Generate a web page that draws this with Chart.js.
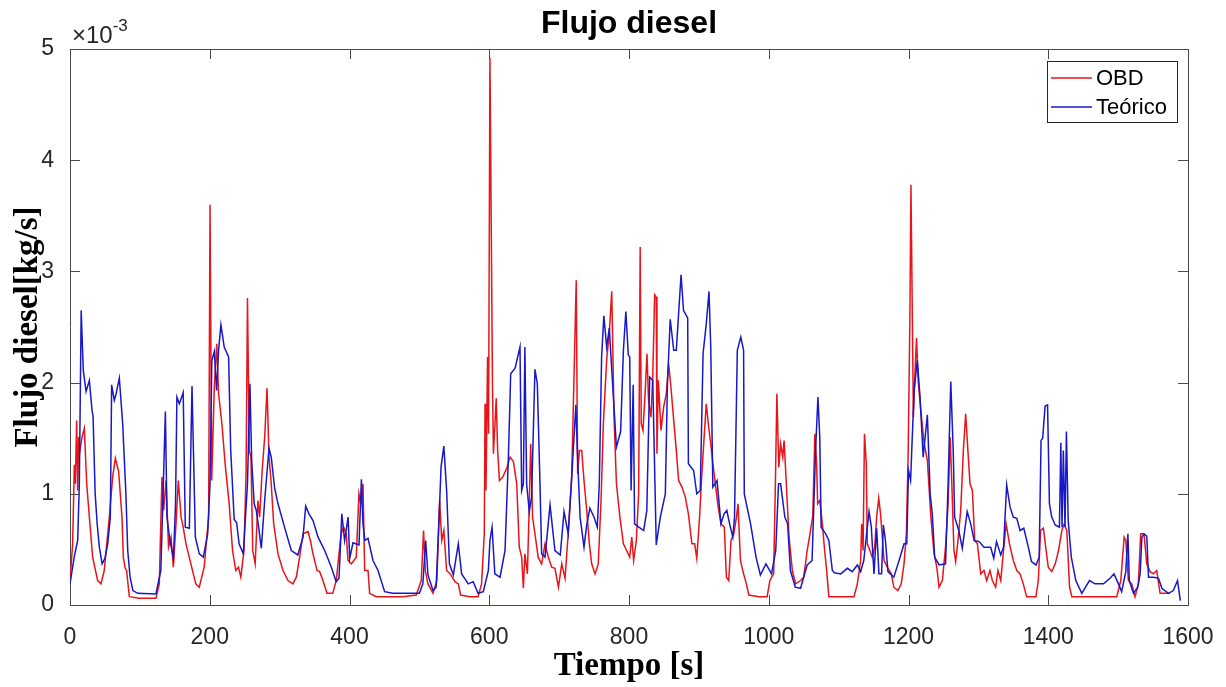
<!DOCTYPE html>
<html>
<head>
<meta charset="utf-8">
<title>Flujo diesel</title>
<script src="https://cdn.jsdelivr.net/npm/chart.js@4.4.1/dist/chart.umd.min.js"></script>
<style>
  body { margin: 0; background: #fff; }
</style>
</head>
<body>
<canvas id="myChart" width="1226" height="687"></canvas>
<script>
// valores en unidades de 1e-3 kg/s (el eje muestra x10^-3)
var obdTiempo = [0, 3.8, 6.2, 7.6, 9.5, 11, 12.4, 14.3, 17.2, 20.5, 23.9, 27.7, 32.4, 39.6, 44.4, 49, 56.3, 61, 64.9, 69.6, 74.4, 76.3, 79, 81, 84.9, 99, 123, 127.8, 131.6, 134, 137.4, 141, 144.6, 147.9, 151.7, 155, 159, 162, 166, 173, 180, 185, 192, 198.4, 200.4, 202.8, 206.5, 210, 212.6, 217.4, 222, 227.8, 232.6, 237.3, 241, 244.5, 249, 252, 254, 256.6, 259, 261.5, 265, 269, 271.4, 275, 278.6, 282, 284.8, 288, 291.5, 297.7, 304.8, 312, 319, 323.9, 328.6, 333.5, 340.6, 344, 347.8, 353.5, 357.3, 362, 367.8, 376, 381, 385, 388, 391.6, 395.4, 397.8, 402.6, 409.7, 413.5, 416, 419.3, 421.7, 426.5, 428.8, 438.4, 476.5, 495.5, 502.7, 506, 508.5, 512.3, 519.5, 525, 529, 532, 535, 539, 544, 551, 555.7, 559, 572, 584, 589, 592.9, 594, 595.3, 597.6, 599, 601, 604.6, 606, 610, 612, 614.6, 619.4, 625, 629.8, 634.6, 639.3, 643, 646.4, 648.8, 651, 654.6, 657.3, 659.3, 662, 665.4, 670, 675, 679.8, 684.6, 689.3, 694, 699, 703.8, 708.5, 713.3, 718, 720.4, 724.5, 726.5, 729, 732.3, 735.6, 739.5, 743.3, 746.6, 751.4, 756, 760, 763.3, 768, 772, 775.3, 778.6, 782, 787, 792, 796.6, 801, 804, 806.6, 810.5, 813.8, 816, 817.5, 820, 823.3, 825.7, 828, 831.4, 834, 836.7, 839, 840, 842, 845.8, 849.6, 853.4, 856.7, 860, 864, 867.7, 871, 875.8, 880.6, 885, 890, 894, 897, 901, 904, 907.5, 910.6, 914, 917, 920, 923.6, 927, 931.6, 936.4, 939.4, 942.7, 946, 950, 953.8, 956, 959.5, 964, 968, 971.5, 985.8, 997.7, 1001.6, 1007, 1009.5, 1011.6, 1014.4, 1017, 1020, 1022, 1025.6, 1029, 1033.8, 1038.5, 1045.6, 1050, 1055, 1059, 1063, 1066, 1068.5, 1070, 1073, 1076.7, 1080, 1083, 1086, 1122, 1126.8, 1131.5, 1133, 1135, 1137, 1139.6, 1141, 1144.8, 1148, 1151.6, 1154.4, 1157.4, 1160, 1165, 1169.6, 1175.4, 1179, 1184.9, 1189.6, 1193.6, 1197, 1199.6, 1202, 1203.5, 1207, 1209.6, 1211.5, 1213.8, 1217.6, 1222.4, 1227, 1232, 1236.6, 1240.5, 1243.7, 1248.5, 1253, 1256.7, 1259.6, 1262, 1265, 1267.5, 1270.8, 1274.7, 1278.5, 1281.8, 1285, 1288, 1291.4, 1294.8, 1298.6, 1303.4, 1308, 1311.9, 1316.6, 1320, 1324.7, 1328, 1332, 1336, 1339.7, 1344.5, 1350, 1355, 1359.6, 1364.3, 1369, 1382.4, 1385.8, 1389, 1393, 1397, 1400, 1405, 1410, 1414.7, 1419.5, 1422.8, 1426.6, 1430.5, 1433.8, 1498, 1503.8, 1508.6, 1511, 1514.7, 1519.5, 1524.2, 1529, 1532.3, 1537, 1541, 1545.7, 1550.5, 1555.3, 1560, 1574];
var obdFlujo = [0.22, 0.55, 1.26, 1.09, 1.66, 1.03, 1.51, 1.39, 1.51, 1.59, 1.09, 0.79, 0.43, 0.22, 0.19, 0.31, 0.79, 1.15, 1.32, 1.20, 0.79, 0.43, 0.33, 0.31, 0.075, 0.06, 0.06, 0.19, 1.15, 0.85, 1.12, 0.52, 0.61, 0.34, 0.73, 1.12, 0.79, 0.70, 0.55, 0.37, 0.19, 0.16, 0.34, 0.79, 3.60, 1.12, 1.96, 2.35, 1.90, 1.63, 1.27, 0.91, 0.49, 0.31, 0.34, 0.25, 0.49, 1.2, 2.76, 1.39, 1.33, 0.49, 0.37, 0.94, 0.79, 1.21, 1.51, 1.95, 1.33, 1.09, 0.73, 0.46, 0.31, 0.22, 0.19, 0.25, 0.43, 0.64, 0.66, 0.58, 0.46, 0.31, 0.30, 0.22, 0.105, 0.105, 0.22, 0.46, 0.64, 0.70, 0.64, 0.40, 0.37, 0.43, 1.00, 0.91, 1.09, 0.31, 0.31, 0.105, 0.075, 0.075, 0.09, 0.22, 0.67, 0.31, 0.19, 0.105, 0.22, 0.94, 0.58, 0.67, 0.31, 0.28, 0.21, 0.19, 0.09, 0.075, 0.075, 0.19, 0.64, 1.81, 1.03, 2.23, 1.54, 4.92, 1.99, 1.36, 1.86, 1.39, 1.12, 1.15, 1.23, 1.33, 1.29, 1.09, 0.52, 0.43, 0.15, 0.46, 0.28, 0.91, 1.45, 0.79, 0.64, 0.43, 0.37, 0.55, 0.43, 0.34, 0.33, 0.16, 0.37, 0.24, 0.67, 1.15, 1.81, 2.92, 1.18, 1.39, 1.39, 1.12, 0.85, 0.55, 0.37, 0.28, 0.37, 0.94, 1.63, 2.20, 2.47, 2.82, 1.69, 1.09, 0.79, 0.55, 0.49, 0.43, 0.61, 0.40, 0.58, 1.00, 3.22, 1.63, 1.57, 1.93, 2.26, 1.84, 1.69, 2.05, 2.79, 2.77, 1.36, 2.02, 1.57, 1.78, 1.90, 2.17, 1.96, 1.66, 1.39, 1.12, 1.06, 0.97, 0.82, 0.55, 0.55, 0.42, 0.79, 1.15, 1.51, 1.81, 1.60, 1.45, 1.27, 1.09, 0.91, 0.73, 0.70, 0.25, 0.22, 0.58, 0.64, 0.79, 0.91, 0.40, 0.28, 0.19, 0.09, 0.075, 0.075, 0.22, 0.28, 1.09, 1.90, 1.24, 1.45, 1.33, 1.48, 1.03, 0.61, 0.31, 0.19, 0.22, 0.25, 0.49, 0.64, 0.80, 1.54, 1.27, 0.91, 0.94, 0.73, 0.49, 0.30, 0.075, 0.075, 0.19, 0.40, 0.73, 0.49, 1.54, 1.27, 0.55, 0.49, 0.43, 0.52, 0.79, 0.96, 0.82, 0.40, 0.34, 0.28, 0.16, 0.13, 0.19, 0.37, 0.64, 1.39, 2.59, 3.78, 1.69, 2.14, 2.40, 2.02, 1.75, 1.45, 1.30, 0.79, 0.46, 0.34, 0.16, 0.22, 0.52, 0.91, 1.51, 1.09, 0.49, 0.39, 0.58, 0.85, 1.39, 1.72, 1.39, 1.09, 1.03, 0.58, 0.55, 0.28, 0.31, 0.22, 0.31, 0.22, 0.16, 0.31, 0.22, 0.49, 0.73, 0.55, 0.40, 0.31, 0.28, 0.19, 0.075, 0.075, 0.22, 0.67, 0.69, 0.49, 0.34, 0.30, 0.37, 0.49, 0.67, 0.73, 0.67, 0.16, 0.075, 0.075, 0.22, 0.61, 0.58, 0.22, 0.19, 0.075, 0.19, 0.64, 0.64, 0.37, 0.30, 0.28, 0.31, 0.105, 0.105];

var teoTiempo = [0, 6, 11, 13.4, 16, 19, 23, 27.7, 31.5, 33, 36, 39, 42, 46, 50, 54, 57.7, 59.6, 63.4, 66, 70.6, 75.4, 80, 82.6, 86, 90, 97, 123, 130, 133.6, 136.5, 138.8, 143, 148, 151, 153, 156.5, 162, 165, 170.8, 174.6, 179.4, 185, 190.8, 197, 200.4, 203, 206.5, 209.8, 212.6, 216, 220.7, 227, 230, 235, 238.5, 242, 248, 254, 257.5, 260, 263.6, 266.6, 270, 273.8, 278.6, 284.8, 288, 292.9, 297.7, 307, 316.7, 326, 333.5, 337.3, 342, 347.8, 355, 364.5, 374, 381, 385, 389, 393, 398, 400.3, 405, 413.6, 417, 419.3, 422, 426.5, 433.6, 440.8, 450.3, 462, 500, 505, 509, 512.3, 519.5, 524, 529, 531, 535, 539, 543, 548.6, 555.7, 560.5, 570, 577, 584, 591.5, 598.7, 601, 604, 608, 615.4, 622.6, 627.4, 630.7, 637, 644, 646.4, 648.8, 651, 653.5, 657.3, 660.6, 665.4, 668.8, 672.6, 675, 679.8, 687, 694, 701.6, 707, 713, 718, 724, 726, 730, 735.6, 739.5, 744, 750, 754.6, 757.5, 760.8, 764, 768, 771.8, 776.5, 782, 788, 792, 795.5, 799, 801, 803, 806, 808, 814, 821, 825.5, 829.6, 834, 839, 844.8, 852, 855, 859, 864, 867.7, 874.5, 878, 884, 885, 892.5, 897, 902, 906, 910.6, 914.5, 917, 920, 926, 931.6, 936, 940, 944, 948.6, 951, 955, 960, 964, 965, 974, 981.8, 988, 996, 1004, 1010, 1014, 1017, 1023, 1027, 1031, 1038, 1045.5, 1055, 1062, 1067, 1070.4, 1073, 1075, 1081.5, 1086, 1091, 1094, 1103, 1112.5, 1119.5, 1126.8, 1131.5, 1136, 1140, 1143.5, 1146.8, 1150.6, 1154.4, 1157.7, 1161.5, 1164, 1167, 1170.6, 1179, 1186.5, 1193.6, 1197.5, 1200, 1203, 1208, 1212.6, 1216.5, 1221, 1227, 1231, 1234, 1237.5, 1243.7, 1253, 1256.7, 1260.5, 1264, 1266, 1272, 1277, 1284, 1289, 1294, 1301, 1308, 1317.6, 1322, 1326, 1332, 1336, 1340.5, 1345.4, 1350, 1355, 1359.6, 1365, 1371.5, 1376, 1382.5, 1387, 1389.7, 1392, 1395.5, 1399, 1401.7, 1405, 1410, 1416, 1418, 1419.7, 1421.6, 1424, 1426, 1428.5, 1433, 1439.5, 1448, 1459, 1467, 1479, 1488.5, 1494, 1500.5, 1505, 1511, 1514, 1516, 1522, 1528, 1531.5, 1534, 1537, 1541, 1543.5, 1550.7, 1557.8, 1562.6, 1572, 1579, 1585, 1589];
var teoFlujo = [0.19, 0.43, 0.58, 1.1, 2.65, 2.11, 1.92, 2.02, 1.75, 1.70, 1.0, 0.72, 0.52, 0.37, 0.42, 0.55, 0.79, 1.98, 1.84, 1.90, 2.04, 1.63, 1.0, 0.49, 0.25, 0.13, 0.105, 0.10, 0.31, 1.09, 1.74, 0.79, 0.58, 0.42, 0.9, 1.87, 1.81, 1.91, 0.70, 0.69, 1.97, 0.61, 0.46, 0.43, 0.64, 1.09, 2.2, 2.28, 1.93, 2.29, 2.52, 2.32, 2.23, 1.39, 0.77, 0.74, 0.55, 0.46, 1.09, 1.99, 1.30, 0.91, 0.85, 0.70, 0.51, 0.94, 1.41, 1.33, 1.05, 0.91, 0.70, 0.49, 0.45, 0.61, 0.89, 0.82, 0.76, 0.61, 0.49, 0.34, 0.21, 0.24, 0.82, 0.58, 0.79, 0.42, 0.56, 0.54, 1.13, 0.73, 0.58, 0.60, 0.40, 0.31, 0.12, 0.105, 0.105, 0.19, 0.58, 0.27, 0.13, 0.16, 0.91, 1.24, 1.43, 1.03, 0.37, 0.27, 0.55, 0.28, 0.19, 0.21, 0.105, 0.12, 0.31, 0.58, 0.70, 0.28, 0.25, 0.49, 1.33, 2.08, 2.13, 2.32, 1.03, 1.09, 2.32, 1.09, 0.84, 0.97, 2.12, 1.99, 1.09, 0.46, 0.43, 0.90, 0.49, 0.45, 0.84, 0.64, 1.15, 1.80, 1.39, 0.79, 0.52, 0.72, 0.87, 0.79, 0.70, 1.09, 2.23, 2.60, 2.32, 2.49, 1.99, 1.42, 1.56, 2.29, 2.64, 2.25, 2.23, 1.03, 1.98, 0.73, 0.70, 0.67, 0.85, 2.05, 2.02, 0.54, 0.79, 1.00, 1.99, 2.57, 2.29, 2.29, 2.97, 2.65, 2.58, 1.27, 1.21, 1.00, 1.03, 2.26, 2.53, 2.82, 2.32, 1.06, 1.12, 0.73, 0.82, 0.85, 0.73, 0.61, 0.79, 2.29, 2.41, 2.29, 1.00, 0.73, 0.43, 0.27, 0.37, 0.28, 0.49, 1.09, 1.09, 0.79, 0.73, 0.31, 0.16, 0.15, 0.36, 0.40, 1.39, 1.87, 1.51, 0.70, 0.64, 0.58, 0.31, 0.29, 0.28, 0.33, 0.30, 0.36, 0.30, 0.40, 0.64, 0.84, 0.70, 0.28, 0.69, 0.28, 0.28, 0.72, 0.58, 0.30, 0.25, 0.40, 0.55, 0.55, 1.21, 1.12, 1.93, 2.20, 1.87, 1.33, 1.71, 1.00, 0.82, 0.43, 0.36, 0.37, 1.09, 2.01, 1.39, 0.79, 0.67, 0.51, 0.84, 0.73, 0.58, 0.57, 0.52, 0.52, 0.42, 0.57, 0.45, 0.52, 1.08, 0.88, 0.79, 0.78, 0.67, 0.69, 0.52, 0.39, 0.36, 0.43, 1.48, 1.50, 1.79, 1.80, 0.91, 0.79, 0.72, 0.70, 1.46, 0.70, 1.39, 0.70, 1.56, 0.76, 0.43, 0.22, 0.105, 0.22, 0.19, 0.19, 0.24, 0.28, 0.19, 0.12, 0.30, 0.64, 0.22, 0.105, 0.16, 0.28, 0.61, 0.64, 0.62, 0.25, 0.25, 0.24, 0.15, 0.105, 0.13, 0.22, 0.04];

var ticksX = [0, 200, 400, 600, 800, 1000, 1200, 1400, 1600];
var ticksY = [0, 1, 2, 3, 4, 5];

function puntos(t, v) {
    var out = [];
    for (var i = 0; i < t.length; i++) out.push({ x: t[i], y: v[i] });
    return out;
}

var ejeColor = '#4a4a4a';

// ejes tipo matlab: caja, ticks hacia dentro, x10^-3, titulo y leyenda dentro
var matlabEjes = {
    id: 'matlabEjes',
    afterDraw: function(chart) {
        var ctx = chart.ctx;
        var a = chart.chartArea;
        var sx = chart.scales.x, sy = chart.scales.y;
        ctx.save();
        ctx.strokeStyle = ejeColor;
        ctx.lineWidth = 1;
        ctx.beginPath();
        ctx.moveTo(a.left, a.top + 0.5);
        ctx.lineTo(a.right + 0.5, a.top + 0.5);
        ctx.lineTo(a.right + 0.5, a.bottom);
        ctx.stroke();

        ctx.beginPath();
        ticksX.forEach(function(v) {
            var px = Math.round(sx.getPixelForValue(v)) + 0.5;
            ctx.moveTo(px, a.bottom); ctx.lineTo(px, a.bottom - 10);
            ctx.moveTo(px, a.top); ctx.lineTo(px, a.top + 10);
        });
        ticksY.forEach(function(v) {
            var py = Math.round(sy.getPixelForValue(v)) + 0.5;
            ctx.moveTo(a.left, py); ctx.lineTo(a.left + 10, py);
            ctx.moveTo(a.right, py); ctx.lineTo(a.right - 10, py);
        });
        ctx.stroke();

        // exponente
        ctx.fillStyle = '#262626';
        ctx.textAlign = 'left';
        ctx.textBaseline = 'alphabetic';
        ctx.font = '24px "Liberation Sans"';
        ctx.fillText('\u00d710', a.left + 2, a.top - 6);
        var w = ctx.measureText('\u00d710').width;
        ctx.font = '17px "Liberation Sans"';
        ctx.fillText('-3', a.left + 2 + w, a.top - 18);

        // titulo
        ctx.fillStyle = '#000';
        ctx.textAlign = 'center';
        ctx.font = 'bold 32px "Liberation Sans"';
        ctx.fillText('Flujo diesel', (a.left + a.right) / 2, 33);

        // leyenda
        var lx = 1047, ly = 61, lw = 130, lh = 61;
        ctx.fillStyle = '#fff';
        ctx.fillRect(lx, ly, lw, lh);
        ctx.strokeStyle = '#262626';
        ctx.strokeRect(lx + 0.5, ly + 0.5, lw, lh);
        ctx.font = '22px "Liberation Sans"';
        ctx.textAlign = 'left';
        ctx.textBaseline = 'middle';
        chart.data.datasets.forEach(function(ds, i) {
            var yy = ly + 17 + i * 29;
            ctx.strokeStyle = ds.borderColor;
            ctx.lineWidth = 1.5;
            ctx.beginPath();
            ctx.moveTo(lx + 4, yy); ctx.lineTo(lx + 45, yy);
            ctx.stroke();
            ctx.fillStyle = '#000';
            ctx.fillText(ds.label, lx + 49, yy + 1);
        });
        ctx.restore();
    }
};

document.addEventListener("DOMContentLoaded", function() {
    var ctx = document.getElementById('myChart').getContext('2d');
    var myChart = new Chart(ctx, {
        type: 'line',
        data: {
            datasets: [{
                label: 'OBD',
                data: puntos(obdTiempo, obdFlujo),
                borderColor: '#e8141a',
                borderWidth: 1.5,
                pointRadius: 0,
                tension: 0,
                order: 1
            }, {
                label: 'Teórico',
                data: puntos(teoTiempo, teoFlujo),
                borderColor: '#1818c8',
                borderWidth: 1.5,
                pointRadius: 0,
                tension: 0,
                order: 0
            }]
        },
        options: {
            responsive: false,
            animation: false,
            layout: { padding: { top: 49, right: 38, bottom: 0, left: 0 } },
            scales: {
                x: {
                    type: 'linear',
                    min: 0,
                    max: 1600,
                    afterFit: function(s) { s.height = 82; },
                    afterBuildTicks: function(s) { s.ticks = ticksX.map(function(v) { return { value: v }; }); },
                    grid: { display: false },
                    border: { display: true, color: ejeColor, width: 1 },
                    ticks: {
                        maxRotation: 0,
                        autoSkip: false,
                        padding: 11,
                        color: '#262626',
                        font: { family: 'Liberation Sans', size: 23 },
                        callback: function(v) { return String(v); }
                    },
                    title: {
                        display: true,
                        text: 'Tiempo [s]',
                        color: '#000',
                        font: { family: 'Liberation Serif', size: 33, weight: 'bold', lineHeight: 1 },
                        padding: { top: 0, bottom: 4 }
                    }
                },
                y: {
                    min: 0,
                    max: 5,
                    afterFit: function(s) { s.width = 70; },
                    afterBuildTicks: function(s) { s.ticks = ticksY.map(function(v) { return { value: v }; }); },
                    grid: { display: false },
                    border: { display: true, color: ejeColor, width: 1 },
                    ticks: {
                        padding: 8,
                        color: '#262626',
                        font: { family: 'Liberation Sans', size: 23 },
                        callback: function(v) { return String(v); }
                    },
                    title: {
                        display: true,
                        text: 'Flujo diesel[kg/s]',
                        color: '#000',
                        font: { family: 'Liberation Serif', size: 33, weight: 'bold', lineHeight: 1 },
                        padding: { top: 12, bottom: 0 }
                    }
                }
            },
            plugins: {
                legend: { display: false },
                title: { display: false },
                tooltip: { enabled: false }
            }
        },
        plugins: [matlabEjes]
    });
});
</script>
</body>
</html>
